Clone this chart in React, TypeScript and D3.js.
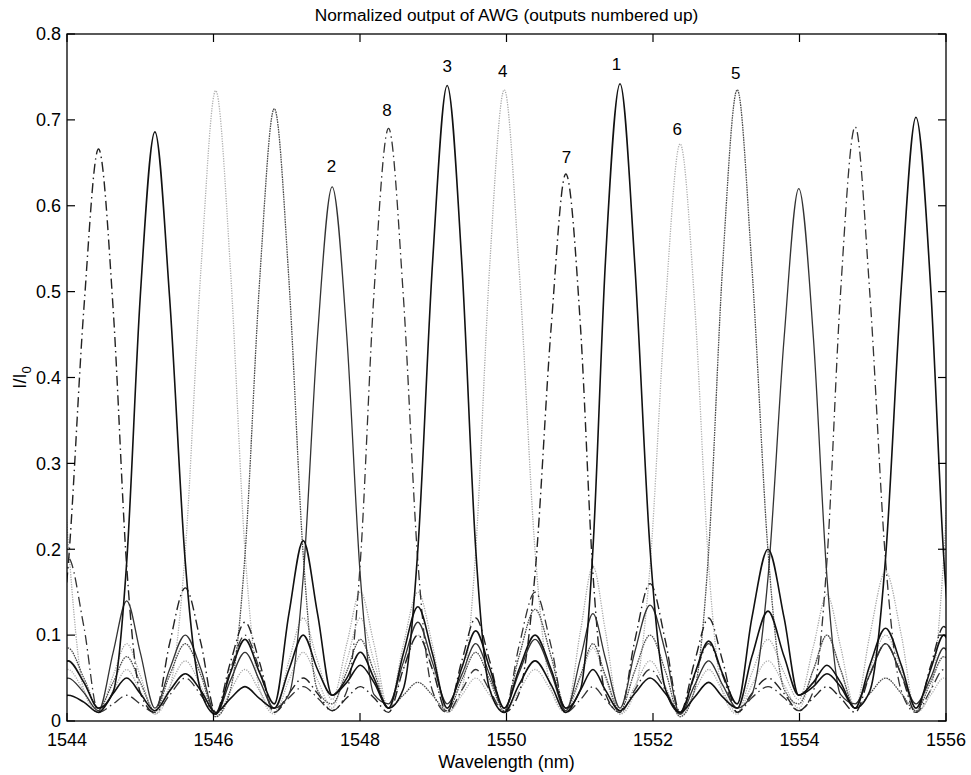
import React from 'react';
import * as d3 from 'd3';

// Wavelength sample positions (nm): channel centres, quarter points and mid-points between channels
const wavelengths = [
  1543.60, 1543.80, 1544.015, 1544.23, 1544.43, 1544.63, 1544.815, 1545.00,
  1545.20, 1545.40, 1545.615, 1545.83, 1546.03, 1546.23, 1546.43, 1546.63,
  1546.83, 1547.03, 1547.225, 1547.42, 1547.62, 1547.82, 1548.005, 1548.19,
  1548.39, 1548.59, 1548.79, 1548.99, 1549.19, 1549.39, 1549.58, 1549.77,
  1549.97, 1550.17, 1550.39, 1550.61, 1550.81, 1551.01, 1551.18, 1551.35,
  1551.55, 1551.75, 1551.96, 1552.17, 1552.37, 1552.57, 1552.76, 1552.95,
  1553.15, 1553.35, 1553.57, 1553.79, 1553.99, 1554.19, 1554.375, 1554.56,
  1554.76, 1554.96, 1555.175, 1555.39, 1555.59, 1555.79, 1555.97, 1556.15,
  1556.35,
];

const out1 = [
  0.02, 0.045, 0.07, 0.045, 0.015, 0.034, 0.185, 0.494,
  0.686, 0.494, 0.185, 0.034, 0.008, 0.056, 0.095, 0.056,
  0.02, 0.125, 0.21, 0.125, 0.03, 0.05, 0.08, 0.05,
  0.015, 0.078, 0.133, 0.078, 0.015, 0.062, 0.105, 0.062,
  0.015, 0.06, 0.10, 0.06, 0.015, 0.037, 0.20, 0.534,
  0.742, 0.534, 0.20, 0.037, 0.01, 0.055, 0.093, 0.055,
  0.02, 0.12, 0.20, 0.12, 0.03, 0.045, 0.065, 0.045,
  0.015, 0.065, 0.108, 0.065, 0.015, 0.06, 0.10, 0.06, 0.015,
];

const out2 = [
  0.015, 0.033, 0.05, 0.033, 0.012, 0.08, 0.14, 0.08,
  0.015, 0.06, 0.10, 0.06, 0.008, 0.047, 0.08, 0.047,
  0.015, 0.031, 0.168, 0.448, 0.622, 0.448, 0.168, 0.031,
  0.02, 0.068, 0.115, 0.068, 0.02, 0.054, 0.09, 0.054,
  0.015, 0.056, 0.095, 0.056, 0.012, 0.073, 0.125, 0.073,
  0.015, 0.08, 0.135, 0.08, 0.008, 0.042, 0.07, 0.042,
  0.015, 0.031, 0.167, 0.446, 0.620, 0.446, 0.167, 0.031,
  0.02, 0.054, 0.09, 0.054, 0.02, 0.05, 0.085, 0.05, 0.015,
];

const out3 = [
  0.015, 0.022, 0.03, 0.022, 0.01, 0.032, 0.05, 0.032,
  0.012, 0.035, 0.055, 0.035, 0.01, 0.026, 0.04, 0.026,
  0.015, 0.06, 0.10, 0.06, 0.03, 0.045, 0.065, 0.045,
  0.015, 0.037, 0.20, 0.533, 0.74, 0.533, 0.20, 0.037,
  0.01, 0.042, 0.07, 0.042, 0.01, 0.036, 0.06, 0.036,
  0.012, 0.032, 0.05, 0.032, 0.01, 0.028, 0.045, 0.028,
  0.015, 0.075, 0.128, 0.075, 0.03, 0.04, 0.055, 0.04,
  0.015, 0.035, 0.19, 0.506, 0.703, 0.506, 0.19, 0.035, 0.01,
];

const out4 = [
  0.72, 0.518, 0.21, 0.036, 0.01, 0.053, 0.09, 0.053,
  0.008, 0.04, 0.07, 0.04, 0.005, 0.035, 0.06, 0.035,
  0.01, 0.07, 0.12, 0.07, 0.025, 0.09, 0.15, 0.09,
  0.015, 0.088, 0.15, 0.088, 0.01, 0.037, 0.198, 0.529,
  0.735, 0.529, 0.198, 0.037, 0.01, 0.105, 0.18, 0.105,
  0.008, 0.04, 0.07, 0.04, 0.005, 0.035, 0.06, 0.035,
  0.01, 0.056, 0.095, 0.056, 0.025, 0.087, 0.147, 0.087,
  0.015, 0.1, 0.174, 0.1, 0.01, 0.035, 0.192, 0.511, 0.71,
];

const out5 = [
  0.015, 0.05, 0.085, 0.05, 0.015, 0.045, 0.075, 0.045,
  0.012, 0.053, 0.09, 0.053, 0.005, 0.036, 0.193, 0.513,
  0.713, 0.513, 0.193, 0.036, 0.02, 0.058, 0.095, 0.058,
  0.015, 0.03, 0.045, 0.03, 0.012, 0.048, 0.08, 0.048,
  0.012, 0.075, 0.13, 0.075, 0.015, 0.053, 0.09, 0.053,
  0.012, 0.058, 0.10, 0.058, 0.005, 0.037, 0.198, 0.529,
  0.735, 0.529, 0.198, 0.037, 0.02, 0.06, 0.10, 0.06,
  0.015, 0.032, 0.05, 0.032, 0.012, 0.045, 0.075, 0.045, 0.012,
];

const out6 = [
  0.01, 0.035, 0.06, 0.035, 0.01, 0.035, 0.06, 0.035,
  0.008, 0.037, 0.198, 0.528, 0.734, 0.528, 0.198, 0.037,
  0.008, 0.048, 0.08, 0.048, 0.015, 0.07, 0.12, 0.07,
  0.015, 0.06, 0.10, 0.06, 0.01, 0.03, 0.05, 0.03,
  0.01, 0.035, 0.06, 0.035, 0.01, 0.05, 0.085, 0.05,
  0.008, 0.034, 0.181, 0.484, 0.672, 0.484, 0.181, 0.034,
  0.008, 0.042, 0.07, 0.042, 0.015, 0.06, 0.10, 0.06,
  0.015, 0.06, 0.10, 0.06, 0.01, 0.03, 0.05, 0.03, 0.01,
];

const out7 = [
  0.01, 0.033, 0.18, 0.48, 0.666, 0.48, 0.18, 0.033,
  0.01, 0.09, 0.155, 0.09, 0.01, 0.068, 0.115, 0.068,
  0.01, 0.032, 0.05, 0.032, 0.012, 0.027, 0.04, 0.027,
  0.01, 0.06, 0.10, 0.06, 0.01, 0.07, 0.12, 0.07,
  0.01, 0.032, 0.172, 0.459, 0.637, 0.459, 0.172, 0.032,
  0.01, 0.093, 0.16, 0.093, 0.01, 0.07, 0.12, 0.07,
  0.01, 0.032, 0.05, 0.032, 0.012, 0.027, 0.04, 0.027,
  0.01, 0.054, 0.09, 0.054, 0.01, 0.064, 0.11, 0.064, 0.01,
];

const out8 = [
  0.015, 0.11, 0.19, 0.11, 0.01, 0.02, 0.03, 0.02,
  0.01, 0.03, 0.05, 0.03, 0.008, 0.06, 0.10, 0.06,
  0.01, 0.027, 0.04, 0.027, 0.012, 0.035, 0.186, 0.497,
  0.69, 0.497, 0.186, 0.035, 0.01, 0.036, 0.06, 0.036,
  0.01, 0.087, 0.15, 0.087, 0.01, 0.025, 0.04, 0.025,
  0.01, 0.036, 0.06, 0.036, 0.008, 0.053, 0.09, 0.053,
  0.01, 0.027, 0.04, 0.027, 0.012, 0.035, 0.187, 0.498,
  0.692, 0.498, 0.187, 0.035, 0.01, 0.036, 0.06, 0.036, 0.01,
];

const xTicks = [1544, 1546, 1548, 1550, 1552, 1554, 1556];
const yTicks = [0, 0.1, 0.2, 0.3, 0.4, 0.5, 0.6, 0.7, 0.8];

const peakLabels = ['3', '4', '1', '5', '8', '2', '7', '6'];
const peakLabelWl = [1549.19, 1549.95, 1551.5, 1553.13, 1548.37, 1547.61, 1550.82, 1552.33];
const peakLabelVal = [0.763, 0.757, 0.765, 0.755, 0.711, 0.646, 0.657, 0.689];

const titleText = 'Normalized output of AWG (outputs numbered up)';
const xLabel = 'Wavelength (nm)';

export default function App() {
  const W = 971;
  const H = 775;
  const L = 67, R = 946, T = 34, B = 721;
  const x = d3.scaleLinear().domain([1544, 1556]).range([L, R]);
  const y = d3.scaleLinear().domain([0, 0.8]).range([B, T]);
  const line = d3
    .line<number>()
    .x((_, i) => x(wavelengths[i]))
    .y((d) => y(d))
    .curve(d3.curveMonotoneX);

  const series = [
    { v: out4, stroke: '#a6a6a6', w: 1.3, dash: '1.2 1.3' },
    { v: out6, stroke: '#adadad', w: 1.3, dash: '1.2 1.3' },
    { v: out5, stroke: '#4a4a4a', w: 1.3, dash: '1.6 0.9' },
    { v: out8, stroke: '#333', w: 1.3, dash: '10 4 1.5 4' },
    { v: out7, stroke: '#222', w: 1.4, dash: '10 4 1.5 4' },
    { v: out2, stroke: '#333', w: 1.3, dash: undefined },
    { v: out3, stroke: '#111', w: 1.6, dash: undefined },
    { v: out1, stroke: '#111', w: 1.6, dash: undefined },
  ];

  const font = "'Liberation Sans', Arial, Helvetica, sans-serif";
  const tickLen = 8;

  return (
    <svg
      width={W}
      height={H}
      style={{ position: 'absolute', left: 0, top: 0, background: '#fff' }}
      fontFamily={font}
    >
      <rect x={0} y={0} width={W} height={H} fill="#fff" />
      <defs>
        <clipPath id="plotClip">
          <rect x={L} y={T} width={R - L} height={B - T} />
        </clipPath>
      </defs>
      <g clipPath="url(#plotClip)">
        {series.map((s, i) => (
          <path
            key={i}
            d={line(s.v) || ''}
            fill="none"
            stroke={s.stroke}
            strokeWidth={s.w}
            strokeDasharray={s.dash}
            strokeLinejoin="round"
          />
        ))}
      </g>
      {/* axes box */}
      <rect x={L} y={T} width={R - L} height={B - T} fill="none" stroke="#000" strokeWidth={1.3} />
      {/* x ticks */}
      {xTicks.map((t) => (
        <g key={'x' + t}>
          <line x1={x(t)} x2={x(t)} y1={B} y2={B - tickLen} stroke="#000" strokeWidth={1.2} />
          <line x1={x(t)} x2={x(t)} y1={T} y2={T + tickLen} stroke="#000" strokeWidth={1.2} />
          <text x={x(t)} y={B + 25} fontSize={18} textAnchor="middle" fill="#000">
            {t}
          </text>
        </g>
      ))}
      {/* y ticks */}
      {yTicks.map((t) => (
        <g key={'y' + t}>
          <line x1={L} x2={L + tickLen} y1={y(t)} y2={y(t)} stroke="#000" strokeWidth={1.2} />
          <line x1={R} x2={R - tickLen} y1={y(t)} y2={y(t)} stroke="#000" strokeWidth={1.2} />
          <text x={L - 6} y={y(t)} dy="0.35em" fontSize={18} textAnchor="end" fill="#000">
            {t === 0 ? '0' : t.toFixed(1)}
          </text>
        </g>
      ))}
      {/* peak labels */}
      {peakLabels.map((lab, i) => (
        <text
          key={'p' + lab}
          x={x(peakLabelWl[i])}
          y={y(peakLabelVal[i])}
          dy="0.35em"
          fontSize={17}
          textAnchor="middle"
          fill="#000"
        >
          {lab}
        </text>
      ))}
      <text x={(L + R) / 2} y={21} fontSize={17.3} textAnchor="middle" fill="#000">
        {titleText}
      </text>
      <text x={(L + R) / 2} y={768} fontSize={18} textAnchor="middle" fill="#000">
        {xLabel}
      </text>
      <text transform={`translate(26, ${(T + B) / 2}) rotate(-90)`} fontSize={18} textAnchor="middle" fill="#000">
        I/I
        <tspan dy={5} fontSize={13}>
          0
        </tspan>
      </text>
    </svg>
  );
}
